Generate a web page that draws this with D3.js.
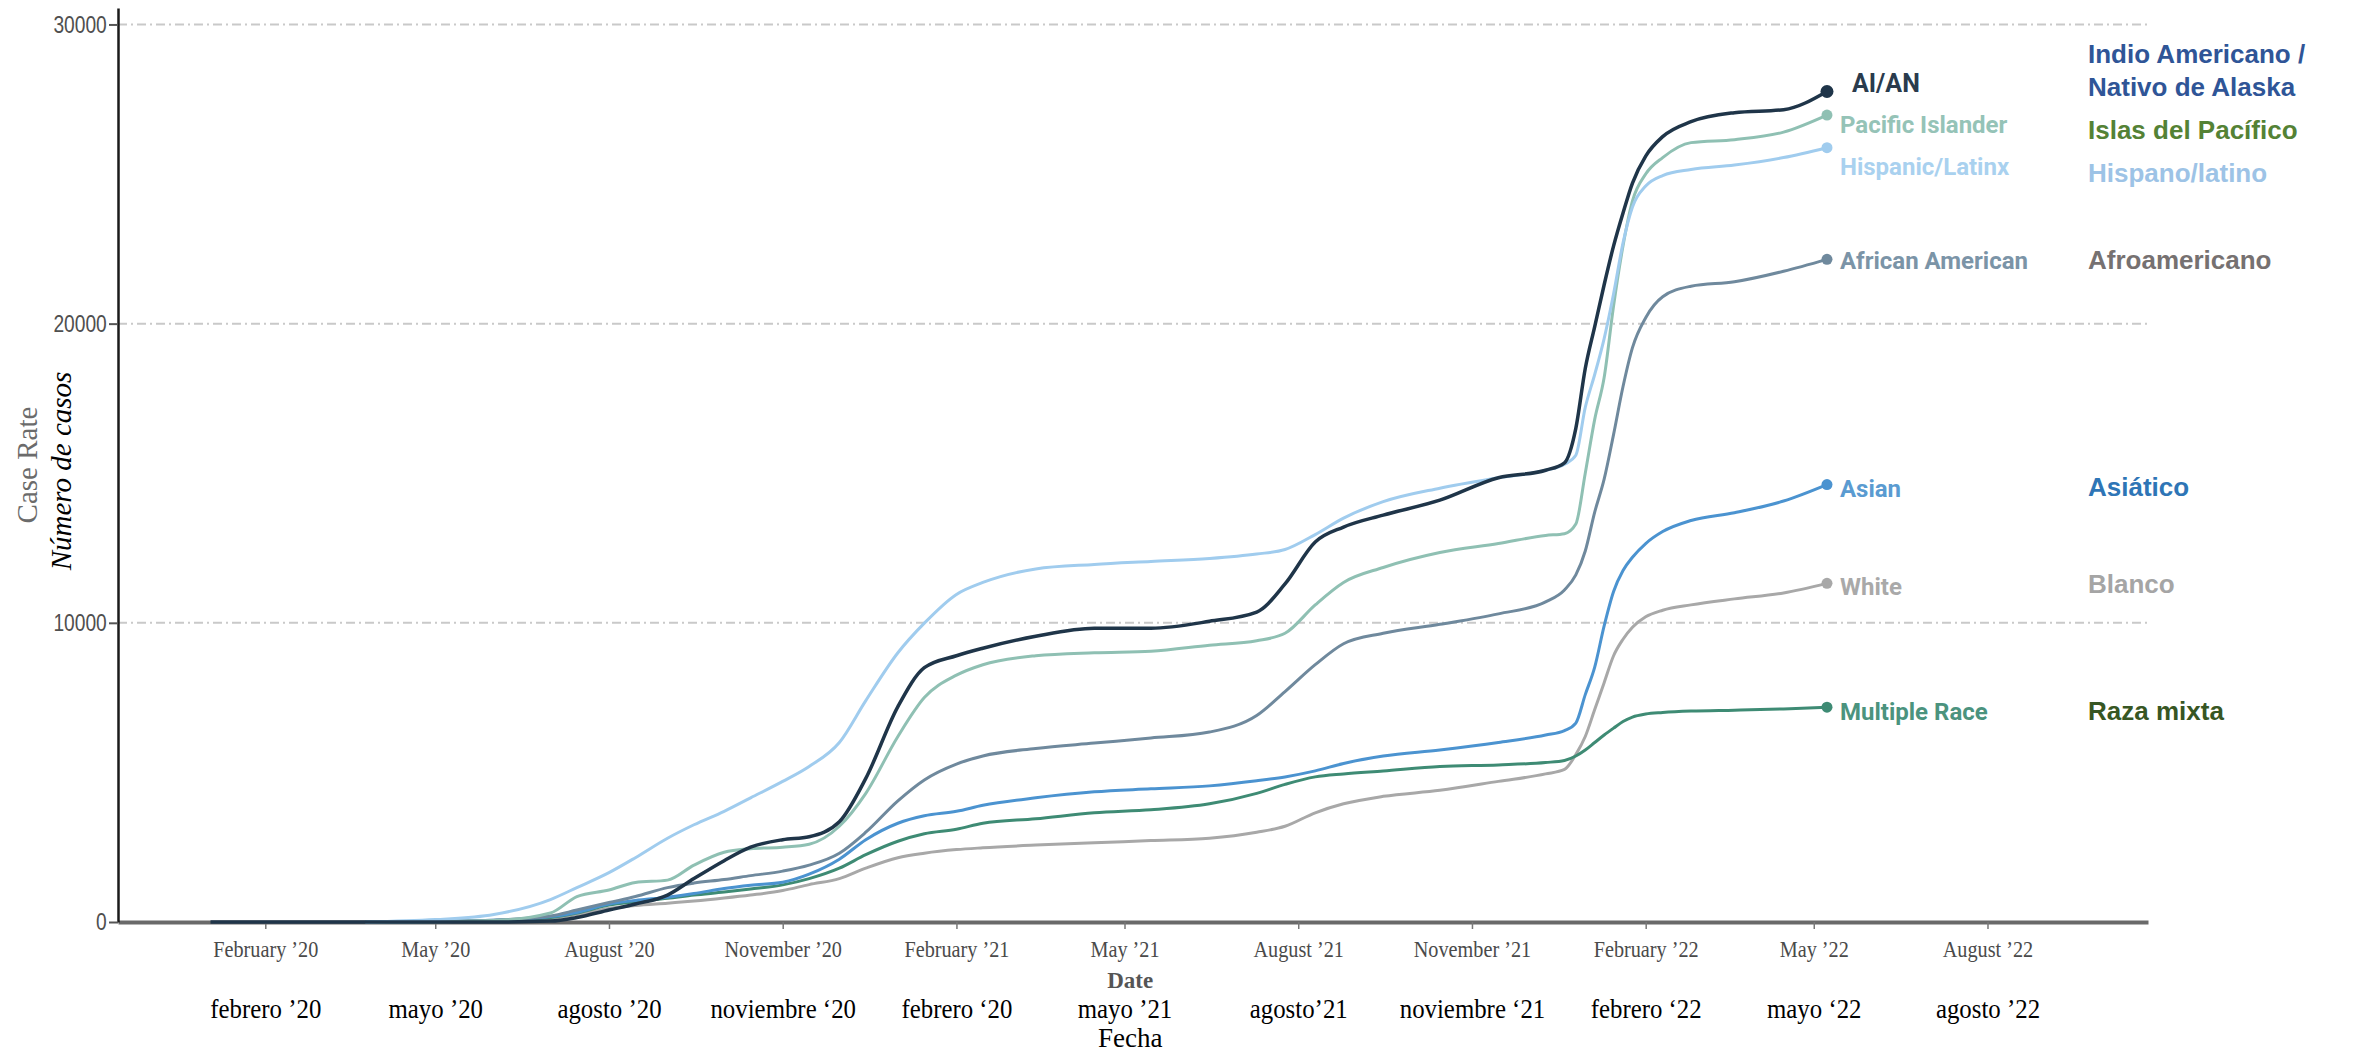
<!DOCTYPE html>
<html>
<head>
<meta charset="utf-8">
<script src="https://cdn.jsdelivr.net/npm/d3@7"></script>
<style>
  html, body { margin: 0; padding: 0; background: #fff; }
  svg { display: block; }
</style>
</head>
<body>
<svg id="chart" width="2353" height="1052"></svg>
<script>
// ---- data ----
const dates = ["2020-01-03","2020-03-25","2020-05-01","2020-06-01","2020-07-01","2020-07-15","2020-08-01","2020-08-15",
  "2020-09-01","2020-09-15","2020-10-01","2020-10-15","2020-11-01","2020-11-15","2020-12-01","2020-12-15",
  "2021-01-01","2021-01-15","2021-02-01","2021-02-15","2021-03-15","2021-04-15","2021-05-15","2021-06-15",
  "2021-07-10","2021-07-25","2021-08-10","2021-08-25","2021-09-15","2021-10-15","2021-11-15","2021-12-10",
  "2021-12-20","2021-12-26","2021-12-31","2022-01-05","2022-01-10","2022-01-15","2022-01-20","2022-01-25",
  "2022-02-01","2022-02-10","2022-02-25","2022-03-20","2022-04-15","2022-05-08"];

const seriesNames = ["AI/AN", "Pacific Islander", "Hispanic/Latinx", "African American", "Asian", "White", "Multiple Race"];
const spanishNames = [["Indio Americano /", "Nativo de Alaska"], ["Islas del Pacífico"], ["Hispano/latino"],
  ["Afroamericano"], ["Asiático"], ["Blanco"], ["Raza mixta"]];

const aian = [0,0,0,0,30,150,400,600,900,1450,2050,2500,2750,2850,3350,4800,
  7200,8500,8900,9150,9550,9820,9820,10050,10360,11300,12700,13200,13600,14100,14850,15100,
  15350,16500,18500,19900,21300,22600,23700,24700,25600,26250,26750,27050,27150,27760];
const pacific = [null,0,20,50,300,850,1070,1320,1400,1900,2330,2450,2500,2600,3200,4300,
  6200,7500,8250,8600,8900,9000,9050,9250,9400,9650,10600,11350,11850,12350,12650,12920,
  12980,13300,15000,16800,18200,20600,22600,24100,25000,25550,26050,26150,26400,26970];
const hispanic = [null,0,80,250,750,1150,1650,2150,2800,3250,3700,4150,4700,5200,6000,7400,
  9000,9990,10950,11350,11800,11950,12050,12150,12300,12450,12950,13500,14050,14500,14850,15100,
  15300,15600,17200,18300,19500,21000,22700,23900,24600,24950,25150,25300,25550,25880];
const african = [null,0,20,60,200,400,650,850,1150,1300,1420,1550,1700,1900,2300,3000,
  4050,4750,5280,5550,5800,5980,6150,6350,6900,7700,8600,9300,9650,9950,10300,10700,
  11100,11600,12400,13700,14800,16300,17900,19200,20200,20900,21250,21400,21750,22150];
const asian = [null,0,20,60,180,320,600,720,830,950,1120,1230,1330,1600,2100,2750,
  3300,3550,3700,3900,4150,4350,4450,4550,4720,4850,5050,5300,5550,5750,6000,6250,
  6400,6650,7600,8520,9900,11050,11750,12190,12650,13050,13420,13680,14070,14620];
const white = [null,0,10,40,120,250,450,550,630,700,800,900,1050,1250,1450,1800,
  2150,2300,2420,2480,2570,2650,2720,2800,3000,3200,3650,3950,4200,4400,4700,4950,
  5100,5600,6200,7100,8000,8900,9450,9850,10200,10420,10600,10800,11000,11320];
const multiple = [null,0,10,40,150,300,570,680,790,900,1000,1100,1240,1450,1800,2250,
  2700,2950,3100,3300,3450,3650,3750,3950,4300,4600,4850,4950,5050,5200,5250,5330,
  5400,5550,5750,6000,6250,6480,6700,6850,6950,7000,7050,7080,7120,7180];

const tickDates = ["2020-02-01","2020-05-01","2020-08-01","2020-11-01","2021-02-01","2021-05-01",
  "2021-08-01","2021-11-01","2022-02-01","2022-05-01","2022-08-01"];
const tickEn = ["February \u201920","May \u201920","August \u201920","November \u201920","February \u201921","May \u201921",
  "August \u201921","November \u201921","February \u201922","May \u201922","August \u201922"];
const tickEs = ["febrero \u201920","mayo \u201920","agosto \u201920","noviembre \u201820","febrero \u201820","mayo \u201921",
  "agosto\u201921","noviembre \u201821","febrero \u201822","mayo \u201822","agosto \u201922"];
const yTicks = [0, 10000, 20000, 30000];

// ---- styles ----
const lineColors = ["#1f3549", "#8fc0b3", "#a0ccee", "#6f899d", "#4b93d0", "#a8a8a8", "#3e8b74"];
const labelColors = ["#2a3b4d", "#95c3b7", "#a9d1ef", "#7b94a7", "#5a9bd1", "#a9a9a9", "#4b937e"];
const spanishColors = ["#2f5597", "#548235", "#9dc3e6", "#767171", "#2e75b6", "#a5a5a5", "#375623"];
const labelDx = [25, 13, 13, 13, 13, 13, 13];
const labelDy = [1, 18, 27, 10, 12, 12, 13];
const spanishDy = [-28, 24, 34, 10, 11, 10, 13];
const legendX = 2088;
const drawOrder = [5, 6, 4, 3, 1, 2, 0];

const parse = d3.timeParse("%Y-%m-%d");
const allValues = [aian, pacific, hispanic, african, asian, white, multiple];
const series = seriesNames.map((name, i) => ({
  name, i,
  values: dates.map((d, k) => ({date: parse(d), v: allValues[i][k]})).filter(p => p.v !== null)
}));

const svg = d3.select('#chart');

const x = d3.scaleTime()
  .domain([parse("2019-11-15"), parse("2022-10-25")])
  .range([118, 2148]);
const y = d3.scaleLinear()
  .domain([0, 30550])
  .range([922, 8]);

// gridlines
svg.append('g')
  .selectAll('line')
  .data(yTicks.filter(t => t > 0))
  .enter()
  .append('line')
  .attr('x1', x.range()[0])
  .attr('x2', x.range()[1])
  .attr('y1', d => y(d))
  .attr('y2', d => y(d))
  .attr('stroke', '#c9c9c9')
  .attr('stroke-width', 2)
  .attr('stroke-dasharray', '9,4,2,4');

// x axis (English)
const xAxisG = svg.append('g')
  .attr('transform', `translate(0,${y(0)})`)
  .call(d3.axisBottom(x)
    .tickValues(tickDates.map(parse))
    .tickFormat((d, i) => tickEn[i])
    .tickSize(7)
    .tickSizeOuter(0));
xAxisG.select('.domain').attr('stroke', '#6a6a6a').attr('stroke-width', 4);
xAxisG.selectAll('.tick line').attr('stroke', '#777').attr('stroke-width', 1.5);
xAxisG.selectAll('.tick text')
  .attr('y', 35).attr('dy', 0)
  .attr('transform', 'scale(0.88,1)')
  .attr('fill', '#4a4a4a')
  .style('font-family', '"Liberation Serif", "DejaVu Serif", serif')
  .style('font-size', '23px');

// x axis (Spanish labels)
const xEsG = svg.append('g')
  .attr('transform', `translate(0,${y(0)})`)
  .call(d3.axisBottom(x)
    .tickValues(tickDates.map(parse))
    .tickFormat((d, i) => tickEs[i])
    .tickSize(0));
xEsG.select('.domain').remove();
xEsG.selectAll('.tick text')
  .attr('y', 96).attr('dy', 0)
  .attr('transform', 'scale(0.92,1)')
  .attr('fill', '#000')
  .style('font-family', '"Liberation Serif", "DejaVu Serif", serif')
  .style('font-size', '27px');

// y axis
const yAxisG = svg.append('g')
  .attr('transform', `translate(${x.range()[0]},0)`)
  .call(d3.axisLeft(y).tickValues(yTicks).tickSize(9).tickSizeOuter(0).tickFormat(d3.format('d')));
yAxisG.select('.domain').attr('stroke', '#1a1a1a').attr('stroke-width', 2.5);
yAxisG.selectAll('.tick line').attr('stroke', '#555').attr('stroke-width', 2);
yAxisG.selectAll('.tick text')
  .attr('x', -14)
  .attr('transform', 'scale(0.8,1)')
  .attr('fill', '#4f4f4f')
  .style('font-family', '"Liberation Sans", Arial, sans-serif')
  .style('font-size', '24px');

// axis titles
const midX = x(parse("2021-05-04"));
svg.append('text')
  .attr('x', midX).attr('y', 988)
  .attr('text-anchor', 'middle')
  .attr('fill', '#555')
  .style('font-family', '"Liberation Serif", serif')
  .style('font-weight', 'bold')
  .style('font-size', '23px')
  .text('Date');
svg.append('text')
  .attr('x', midX).attr('y', 1047)
  .attr('text-anchor', 'middle')
  .attr('fill', '#000')
  .style('font-family', '"Liberation Serif", serif')
  .style('font-size', '27px')
  .text('Fecha');
svg.append('text')
  .attr('transform', 'translate(37,465) rotate(-90)')
  .attr('text-anchor', 'middle')
  .attr('fill', '#6b6b6b')
  .style('font-family', '"Liberation Serif", serif')
  .style('font-size', '29px')
  .text('Case Rate');
svg.append('text')
  .attr('transform', 'translate(71,471) rotate(-90)')
  .attr('text-anchor', 'middle')
  .attr('fill', '#000')
  .style('font-family', '"Liberation Serif", serif')
  .style('font-style', 'italic')
  .style('font-size', '29px')
  .text('Número de casos');

// lines
const line = d3.line()
  .x(d => x(d.date))
  .y(d => y(d.v))
  .curve(d3.curveMonotoneX);

const ordered = drawOrder.map(i => series[i]);

svg.append('g')
  .selectAll('path')
  .data(ordered)
  .enter()
  .append('path')
  .attr('d', d => line(d.values))
  .attr('fill', 'none')
  .attr('stroke', d => lineColors[d.i])
  .attr('stroke-width', d => d.i === 0 ? 3.5 : 3)
  .attr('stroke-linejoin', 'round');

// end dots
const last = d => d.values[d.values.length - 1];
svg.append('g')
  .selectAll('circle')
  .data(ordered)
  .enter()
  .append('circle')
  .attr('cx', d => x(last(d).date))
  .attr('cy', d => y(last(d).v))
  .attr('r', d => d.i === 0 ? 6.5 : 5.5)
  .attr('fill', d => lineColors[d.i]);

// inline labels (English)
svg.append('g')
  .selectAll('text')
  .data(series)
  .enter()
  .append('text')
  .attr('x', d => x(last(d).date) + labelDx[d.i])
  .attr('y', d => y(last(d).v) + labelDy[d.i])
  .attr('fill', d => labelColors[d.i])
  .style('font-family', 'Roboto, "Liberation Sans", sans-serif')
  .style('font-weight', 'bold')
  .style('font-size', d => d.i === 0 ? '25px' : '24px')
  .text(d => d.name);

// Spanish legend column
const es = svg.append('g')
  .selectAll('text')
  .data(series)
  .enter()
  .append('text')
  .attr('y', d => y(last(d).v) + spanishDy[d.i])
  .attr('fill', d => spanishColors[d.i])
  .style('font-family', '"Liberation Sans", Arial, sans-serif')
  .style('font-weight', 'bold')
  .style('font-size', '26px');
es.selectAll('tspan')
  .data(d => spanishNames[d.i])
  .enter()
  .append('tspan')
  .attr('x', legendX)
  .attr('dy', (d, k) => k === 0 ? 0 : 33)
  .text(d => d);
</script>
</body>
</html>
